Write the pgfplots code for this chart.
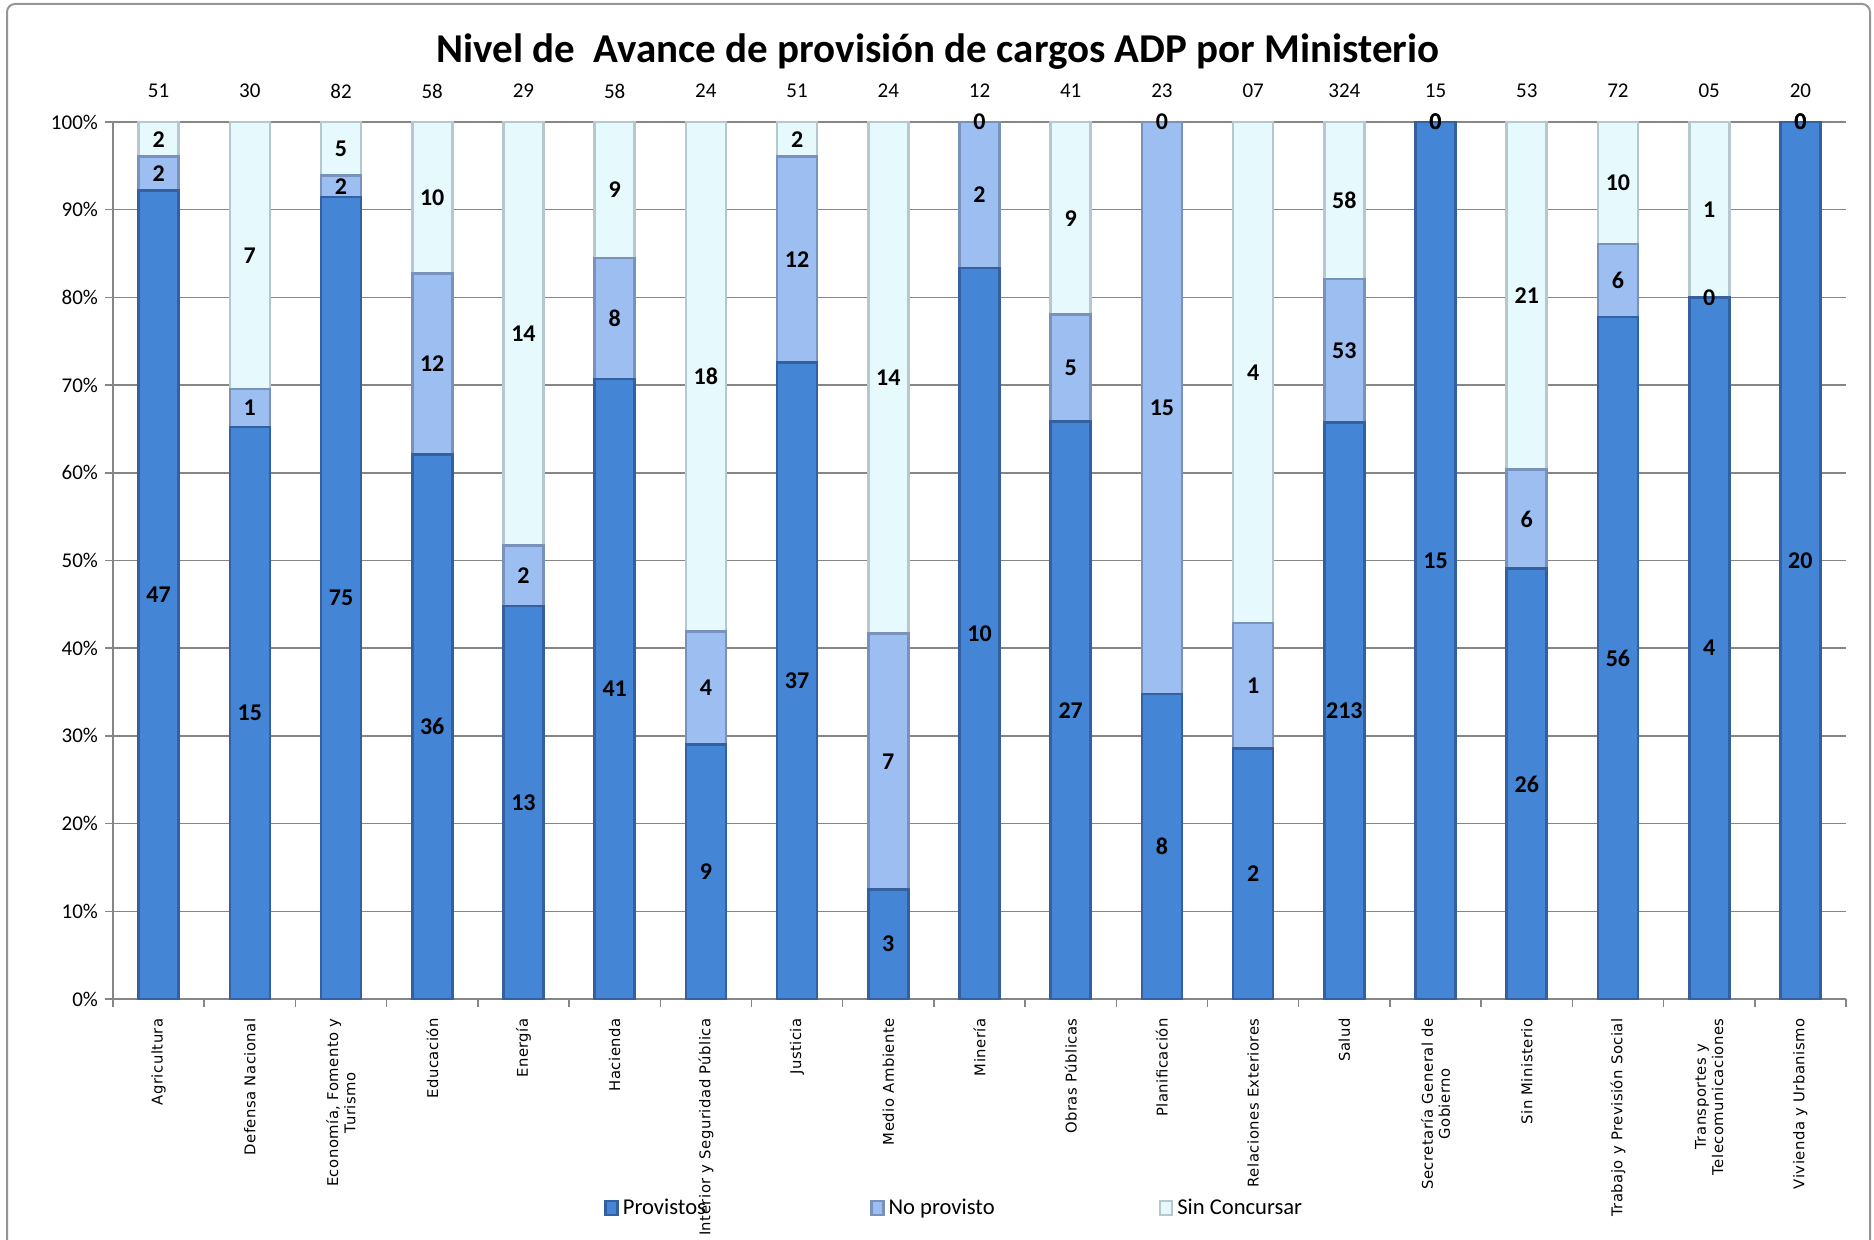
\documentclass[border=0pt]{standalone}
\usepackage{pgfplots}
\pgfplotsset{compat=1.18}
\usepackage{pgfplotstable}
\usepackage{fontspec}
\setmainfont{Carlito}
\newfontfamily\catfont[LetterSpace=3.5]{DejaVu Sans}

\definecolor{gridgray}{RGB}{134,134,134}
\definecolor{bordergray}{RGB}{150,150,150}
\definecolor{provMid}{RGB}{68,133,213}
\definecolor{provEdge}{RGB}{52,96,160}
\definecolor{nopMid}{RGB}{156,190,240}
\definecolor{nopEdge}{RGB}{120,146,188}
\definecolor{sinMid}{RGB}{230,249,253}
\definecolor{sinEdge}{RGB}{182,200,206}

% counts per ministry: provistos, no provisto, sin concursar
\pgfplotstableread{
x prov nop sinc
0 47 2 2
1 15 1 7
2 75 2 5
3 36 12 10
4 13 2 14
5 41 8 9
6 9 4 18
7 37 12 2
8 3 7 14
9 10 2 0
10 27 5 9
11 8 15 0
12 2 1 4
13 213 53 58
14 15 0 0
15 26 6 21
16 56 6 10
17 4 0 1
18 20 0 0
}\datatable
\pgfplotstablecreatecol[create col/expr={100*\thisrow{prov}/(\thisrow{prov}+\thisrow{nop}+\thisrow{sinc})}]{pprov}{\datatable}
\pgfplotstablecreatecol[create col/expr={100*\thisrow{nop}/(\thisrow{prov}+\thisrow{nop}+\thisrow{sinc})}]{pnop}{\datatable}
\pgfplotstablecreatecol[create col/expr={100*\thisrow{sinc}/(\thisrow{prov}+\thisrow{nop}+\thisrow{sinc})}]{psinc}{\datatable}
% label heights: middle of each stacked segment
\pgfplotstablecreatecol[create col/expr={\thisrow{pprov}/2}]{mprov}{\datatable}
\pgfplotstablecreatecol[create col/expr={\thisrow{pprov}+\thisrow{pnop}/2}]{mnop}{\datatable}
\pgfplotstablecreatecol[create col/expr={\thisrow{pprov}+\thisrow{pnop}+\thisrow{psinc}/2}]{msinc}{\datatable}

\pgfplotsset{
  seglabel/.style={draw=none, mark=none, nodes near coords, point meta=explicit symbolic,
    every node near coord/.style={anchor=center, text=black, inner sep=0pt,
      font=\bfseries\fontsize{12}{14}\selectfont}},
}

\begin{document}
\begin{tikzpicture}
\path[use as bounding box] (0,0) rectangle (937pt,619.5pt);
\draw[bordergray, line width=1pt, rounded corners=4pt] (3.5pt,-10pt) rectangle (935pt,617.5pt);

\begin{axis}[
  at={(56.5pt,120pt)}, anchor=south west,
  scale only axis, width=866.5pt, height=438.5pt,
  ybar stacked, bar width=20pt,
  xmin=-0.5, xmax=18.5, ymin=0, ymax=100,
  /pgf/number format/assume math mode=true,
  ytick={0,10,...,100},
  yticklabel={\pgfmathprintnumber{\tick}\%},
  yticklabel style={font=\fontsize{10.5}{12}\selectfont},
  ymajorgrids, grid style={gridgray, line width=0.75pt},
  axis x line*=bottom, axis y line*=left,
  axis line style={gridgray, line width=0.75pt, -},
  tick style={gridgray, line width=0.75pt},
  tick align=outside, major tick length=4pt,
  xtick={-0.5,0.5,...,18.5}, xticklabel={\phantom{0}},
  extra x ticks={0,1,...,18},
  extra x tick labels={Agricultura, Defensa Nacional, {Economía, Fomento y\\Turismo}, Educación, Energía, Hacienda, Interior y Seguridad Pública, Justicia, Medio Ambiente, Minería, Obras Públicas, Planificación, Relaciones Exteriores, Salud, {Secretaría General de\\Gobierno}, Sin Ministerio, Trabajo y Previsión Social, {Transportes y\\Telecomunicaciones}, Vivienda  y Urbanismo},
  extra x tick style={major tick length=0pt, tick style={draw=none},
    xticklabel style={rotate=90, anchor=east, align=center, inner sep=0pt,
      xshift=-9.5pt, font=\catfont\fontsize{7.4}{8.6}\selectfont}},
  title={Nivel de~ Avance de provisión de cargos ADP por Ministerio},
  title style={at={(0.476,1.067)}, anchor=center, font=\bfseries\fontsize{20.5}{24}\selectfont},
  legend columns=3,
  legend style={draw=none, fill=none, at={(0.486,-0.2383)}, anchor=center,
    font=\fontsize{11.3}{13}\selectfont,
    /tikz/every even column/.append style={column sep=80pt}},
  legend image code/.code={\path[#1] (0pt,-3.5pt) rectangle (6pt,3.5pt);},
]
\addplot[draw=provEdge, line width=1.3pt, fill=provMid]
  table[x=x, y=pprov] {\datatable};
\addplot[draw=nopEdge, line width=1.3pt, fill=nopMid]
  table[x=x, y=pnop] {\datatable};
\addplot[draw=sinEdge, line width=1.3pt, fill=sinMid]
  table[x=x, y=psinc] {\datatable};
\legend{Provistos, No provisto, Sin Concursar}
\end{axis}

% totals above the bars and the value labels in each segment
\begin{axis}[
  at={(56.5pt,120pt)}, anchor=south west,
  scale only axis, width=866.5pt, height=438.5pt,
  xmin=-0.5, xmax=18.5, ymin=0, ymax=100,
  hide y axis, axis x line*=top, x axis line style={draw=none},
  xtick={0,1,...,18}, major tick length=0pt, tick style={draw=none},
  xticklabels={51,30,82,58,29,58,24,51,24,12,41,23,07,324,15,53,72,05,20},
  xticklabel style={anchor=center, yshift=15.5pt, font=\fontsize{10.5}{12}\selectfont},
  clip=false,
]
\addplot[seglabel] table[x=x, y=mprov, meta=prov] {\datatable};
\addplot[seglabel] table[x=x, y=mnop, meta=nop] {\datatable};
\addplot[seglabel] table[x=x, y=msinc, meta=sinc] {\datatable};
\end{axis}
\end{tikzpicture}
\end{document}
